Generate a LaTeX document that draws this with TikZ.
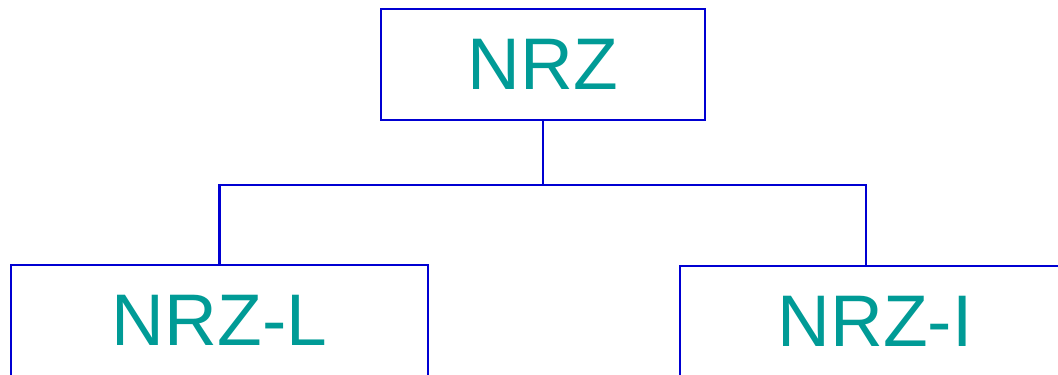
\documentclass[tikz,border=0pt]{standalone}
\usepackage{fontspec}
\setmainfont{Liberation Sans}
\usepackage{tikz}
\usetikzlibrary{calc}
\definecolor{boxblue}{RGB}{0,0,210}
\definecolor{codeteal}{RGB}{0,155,150}

\begin{document}
\begin{tikzpicture}[
    codebox/.style={draw=boxblue,line width=0.7pt,text=codeteal,
      font=\fontsize{20.8}{24}\selectfont,inner sep=0pt,
      minimum height=1.11cm}]
        \clip (0,0) rectangle (10.58,-3.74);
        \useasboundingbox (0,0) rectangle (10.58,-3.74);
        % the three boxes
        \node[codebox,minimum width=3.24cm] (nrz) at (5.43,-0.645) {NRZ};
        \node[codebox,minimum width=4.17cm] (nrzl) at (2.195,-3.205) {NRZ-L};
        \node[codebox,minimum width=3.90cm] (nrzi) at (8.75,-3.215) {NRZ-I};
        \coordinate (nrzitop) at ($(nrzi.north)+(-0.09,0)$);
        % tree lines
        \draw[boxblue,line width=0.7pt] (nrz.south) -- ++(0,-0.64) coordinate (fork);
        \draw[boxblue,line width=0.7pt] (fork) -| (nrzl.north);
        \draw[boxblue,line width=0.7pt] (fork) -| (nrzitop);
      \end{tikzpicture}
\end{document}
